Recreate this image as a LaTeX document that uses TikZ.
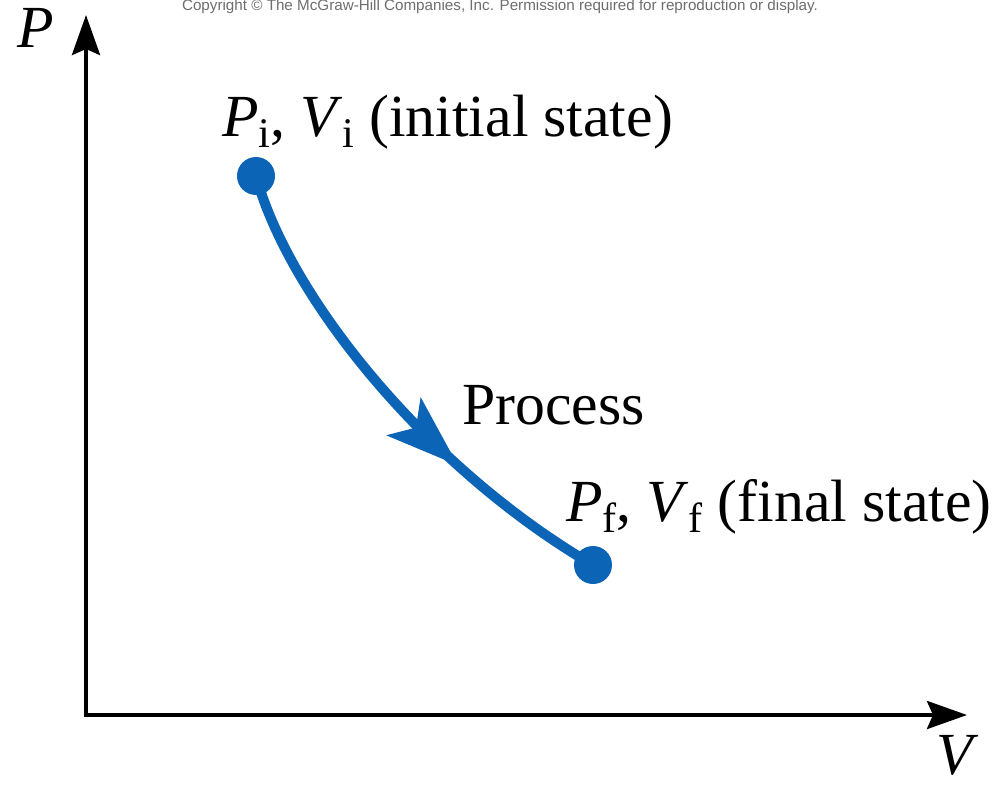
\documentclass[tikz,border=0pt]{standalone}
\usepackage{fontspec}
\setmainfont{Liberation Serif}
\newfontfamily\copyfont{Liberation Sans}
\usetikzlibrary{arrows.meta,decorations.markings}
\definecolor{procblue}{RGB}{12,100,182}
\definecolor{copygray}{RGB}{110,110,110}
\newcommand{\lowsub}[1]{\raisebox{-0.2em}{\fontsize{24}{28}\selectfont #1}}
\begin{document}
\begin{tikzpicture}[x=0.02cm,y=-0.02cm,
  axisline/.style={line width=0.08cm, -{Stealth[length=0.8cm,width=0.56cm,inset=0.12cm]}},
  statedot/.style={circle, fill=procblue, inner sep=0pt, minimum size=0.76cm},
  proccurve/.style={procblue, line width=0.2cm},
  lbl/.style={anchor=base west, inner sep=0pt, font=\fontsize{34}{40}\selectfont}]
\useasboundingbox (0,0) rectangle (1005,785);
\fill[white] (0,0) rectangle (1005,785);
% copyright
\node[anchor=base, inner sep=0pt, text=copygray] (copy) at (500,10)
  {\resizebox{12.72cm}{!}{\copyfont Copyright \textcopyright{} The McGraw-Hill Companies, Inc. Permission required for reproduction or display.}};
% axes
\coordinate (O) at (86,715);
\coordinate (Ptop) at (86,15);
\coordinate (Vend) at (967,715);
\draw[axisline] (O) -- (Ptop);
\draw[axisline] ([xshift=-0.04cm]O) -- (Vend);
\node[lbl] (Plab) at (17,47) {\textit{P}};
\node[lbl] (Vlab) at (936,774) {\textit{V}};
% states
\node[statedot] (i) at (256,176) {};
\node[statedot] (f) at (593,565) {};
\draw[proccurve, postaction={decorate, decoration={markings,
   mark=at position 0.68 with {\arrow{Stealth[length=1.45cm,width=1.0cm,inset=0.32cm]}}}}]
  (i.center) .. controls (290,300) and (430,470) .. (f.center);
\node[lbl] (ilab) at (222,136) {\textit{P}\lowsub{i}, \textit{V}\lowsub{i} (initial state)};
\node[lbl] (plab) at (462,424) {Process};
\node[lbl] (flab) at (566,521) {\textit{P}\lowsub{f}, \textit{V}\lowsub{f} (final state)};
\end{tikzpicture}
\end{document}
